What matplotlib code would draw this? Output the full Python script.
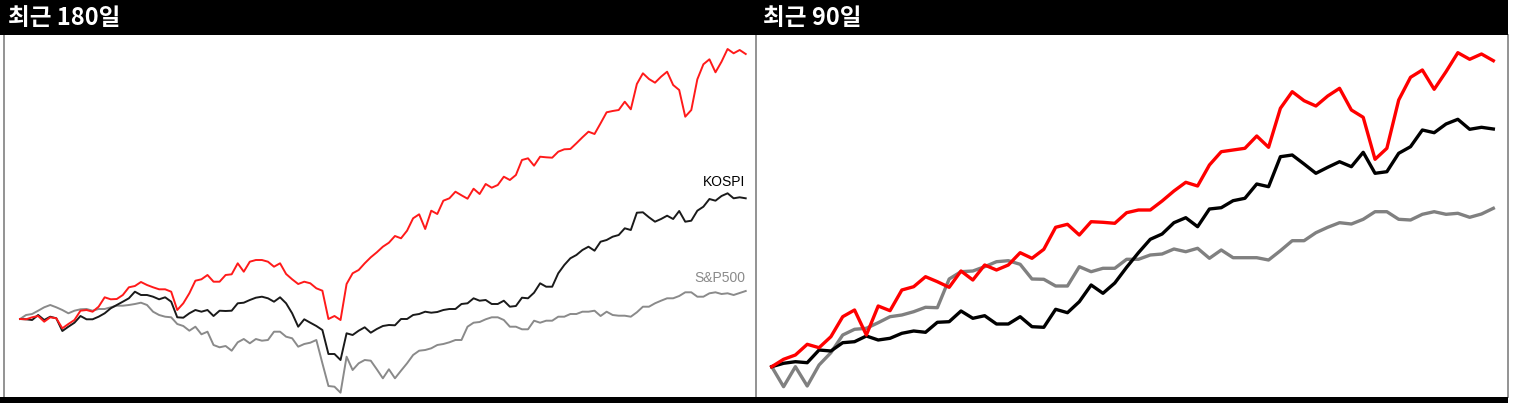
import matplotlib
matplotlib.use("Agg")
import matplotlib.pyplot as plt
from matplotlib.patches import Rectangle

plt.rcParams['font.family'] = ['Noto Sans CJK KR', 'DejaVu Sans']

# relative performance (chart units, start = 0)
# recent 180 days
fund_180 = [0, -0.3, 1.7, 3, -2.7, 1.7, 0.7, -9.3, -5, -1, 8.3, 9, 7.3, 12.3, 21.7, 19.7, 20, 24, 31.7, 33,
            37, 34, 31.7, 29.7, 29.7, 27.3, 9, 15.7, 25.7, 38.3, 39.7, 44, 37.3, 37.3, 44, 44.7, 55.7, 47.3, 57.3, 59,
            59, 57.3, 52.3, 55.7, 45, 39.7, 35, 37.3, 35.7, 30.7, 28.3, 0, 3, -1, 35, 45.7, 49, 55.7, 61.7, 66.7,
            72.3, 76.3, 83, 80.7, 88.3, 100.7, 104.7, 90, 108.3, 105, 118.3, 120.7, 127.3, 123.7, 120.3, 130.3, 125, 135, 131.3, 134,
            142.3, 139, 144, 159, 160.7, 153.3, 162.3, 161.7, 161.3, 167.3, 169.7, 170, 175.7, 181.7, 187.3, 185, 195.7, 206.7, 208, 209,
            217.3, 209.7, 235, 245.7, 240, 236.3, 242.3, 247.3, 234, 229, 202.3, 209, 239.7, 254.7, 259.7, 246.7, 257.3, 270, 265.7, 269,
            265]
kospi_180 = [0, -0.3, -1, 4, -1, 2.3, 0.7, -12, -7.7, -3.7, 3, -0.3, -0.3, 2.3, 5.7, 10.7, 14, 17.3, 20.7, 27.3,
             24, 24, 22.3, 19.7, 21.7, 17.3, 1.7, 1.3, 5.7, 9, 7.3, 9, 3, 8.3, 8, 8.3, 15.7, 16.3, 19, 21.3,
             22.3, 20.7, 17.3, 21.7, 15.7, 5.7, -7.7, -0.3, -3.7, -7, -11, -35, -35, -41, -14.3, -16, -11.7, -8.3, -13.7, -10,
             -7, -6, -6.3, 0, 0, 4, 5, 7.3, 6.3, 7, 9, 10, 10, 15, 15.7, 20.7, 18.3, 19, 15, 15,
             18.3, 12.3, 13, 21.3, 20.7, 26.3, 35.7, 32.3, 32.3, 45.7, 54, 60.7, 64, 69, 72.3, 68.3, 77.3, 79, 82.3, 84,
             90.7, 89, 106.3, 106.7, 101.7, 97.3, 100, 103.3, 100, 108, 97.3, 98.3, 108.3, 112.3, 120, 118.3, 123, 125.7, 120.7, 121.7,
             120.7]
sp500_180 = [0, 4, 5, 8.3, 11.7, 14, 11.7, 9, 5.7, 8.3, 9.7, 10, 8.3, 10, 10, 11.7, 13.3, 13.3, 14, 15,
             16.3, 14, 7.3, 4, 2.3, 1.7, -5, -7, -11.7, -7.7, -15.3, -12.7, -26, -28.3, -27, -31.7, -23.3, -20, -24.3, -20,
             -21.7, -21, -12.7, -12.7, -17.7, -19.3, -27.7, -25, -23.7, -21, -44.3, -67, -67.7, -73.7, -37.7, -51, -44.3, -41, -41.7, -50.3,
             -59.3, -50.3, -59.3, -51.7, -44.3, -36, -31.7, -31, -29.3, -26, -25, -23.3, -21, -21, -7.7, -3.7, -3, -0.3, 1.7, 1.7,
             -1, -7.7, -7.7, -10.3, -10.3, -1.7, -3.7, -1.7, -1.7, 2.3, 2.3, 5, 5, 7.3, 7.3, 8.3, 3, 7.3, 4, 3.3,
             3.3, 2.3, 6.7, 12.3, 12.3, 15.7, 18.3, 20.7, 20.7, 23, 26.7, 26.7, 22.3, 22.3, 25.7, 26.7, 25, 25.7, 24, 26,
             28]

# recent 90 days
fund_90 = [0, 7.4, 11.7, 22.4, 19, 30, 50, 56.7, 31.7, 60.7, 56, 76.7, 80, 90, 85, 79.4, 95.7, 86.7, 101.7, 96.7,
           101.7, 114, 108.4, 117.4, 139.4, 142.4, 131.7, 145, 144.4, 143.4, 154, 156.7, 156.7, 165.7, 175.7, 184.4, 180.7, 201.7, 215, 216.7,
           218.4, 230.7, 219.4, 258.4, 275, 266, 260.7, 270.7, 278.4, 256.7, 249.4, 207.4, 218.4, 266.7, 289.4, 296.7, 277.4, 295, 314, 307.4,
           312.7, 306]
kospi_90 = [0, 3.4, 5, 4, 16.7, 15.7, 24, 25, 30.7, 26.7, 28.4, 33.4, 35.7, 34.4, 44.4, 45, 55.7, 48.4, 51, 42.7,
            42.7, 50, 40, 39.4, 57.4, 54, 65, 81.7, 73.4, 83.7, 99.4, 114, 127.4, 132.7, 144, 149, 140, 157.7, 159, 166,
            168.4, 182.7, 180, 210, 211.7, 202.7, 193.4, 199.4, 205, 200, 214.4, 193.4, 195, 213.4, 220, 236.7, 234, 242.7, 247.4, 237.4,
            239.4, 237.7]
sp500_90 = [0, -20, 0, -19.3, 1.7, 14, 31.7, 37.4, 38.4, 44, 50, 51.7, 55, 59.4, 59, 87.7, 95, 95.7, 100, 105,
            106, 102.4, 87.7, 87.4, 80.7, 80.7, 100, 95, 98.4, 98.4, 107.4, 107.4, 111.7, 112.7, 117.7, 115, 118.4, 108.4, 116.7, 109,
            109, 109, 106.7, 116, 126, 126, 134, 139.4, 144, 142.7, 147.4, 155, 155, 147.4, 146.7, 152.4, 155, 152.4, 153.4, 149.4,
            152.7, 158.4]

titles = ['최근 180일', '최근 90일']

W, H = 1513, 403
fig = plt.figure(figsize=(W / 100, H / 100), dpi=100)
fig.patch.set_facecolor('white')

# header and bottom bars
fig.add_artist(Rectangle((0, (H - 35) / H), 1508 / W, 35 / H, transform=fig.transFigure,
                         facecolor='black', edgecolor='none'))
fig.add_artist(Rectangle((0, 0), 1508 / W, 6 / H, transform=fig.transFigure,
                         facecolor='black', edgecolor='none'))

ax1 = fig.add_axes([3.5 / W, 6 / H, (756 - 3.5) / W, 362 / H])
ax2 = fig.add_axes([756 / W, 6 / H, 752 / W, 362 / H])

x180 = range(len(fund_180))
ax1.plot(x180, sp500_180, color='#8a8a8a', lw=1.4)
ax1.plot(x180, kospi_180, color='#1a1a1a', lw=1.4)
ax1.plot(x180, fund_180, color='#ff1a1a', lw=1.4)
ax1.set_xlim(-2.73, 121.7)
ax1.set_ylim(-78, 284)

lab_font = ['Liberation Sans Narrow', 'Liberation Sans', 'DejaVu Sans']
ax1.annotate('KOSPI', xy=(x180[-1], kospi_180[-1]), xytext=(0, 7), textcoords='offset points',
             ha='right', va='bottom', fontsize=10, color='black', family=lab_font)
ax1.annotate('S&P500', xy=(x180[-1], sp500_180[-1]), xytext=(0, 4), textcoords='offset points',
             ha='right', va='bottom', fontsize=10, color='#8a8a8a', family=lab_font)

x90 = range(len(fund_90))
ax2.plot(x90, sp500_90, color='#808080', lw=2.4)
ax2.plot(x90, kospi_90, color='black', lw=2.4)
ax2.plot(x90, fund_90, color='#ff0000', lw=2.4)
ax2.set_xlim(-1.33, 62.24)
ax2.set_ylim(-30.3, 331.7)

for ax in (ax1, ax2):
    ax.set_xticks([])
    ax.set_yticks([])
    ax.patch.set_alpha(0)
    for s in ('top', 'bottom'):
        ax.spines[s].set_visible(False)
    for s in ('left', 'right'):
        ax.spines[s].set_color('#808080')
        ax.spines[s].set_linewidth(1.2)
ax2.spines['left'].set_visible(False)

fig.text(8 / W, (H - 18) / H, titles[0], color='white', fontsize=17, fontweight='bold', va='center')
fig.text(763 / W, (H - 18) / H, titles[1], color='white', fontsize=17, fontweight='bold', va='center')

fig.savefig('out.png', dpi=100)
